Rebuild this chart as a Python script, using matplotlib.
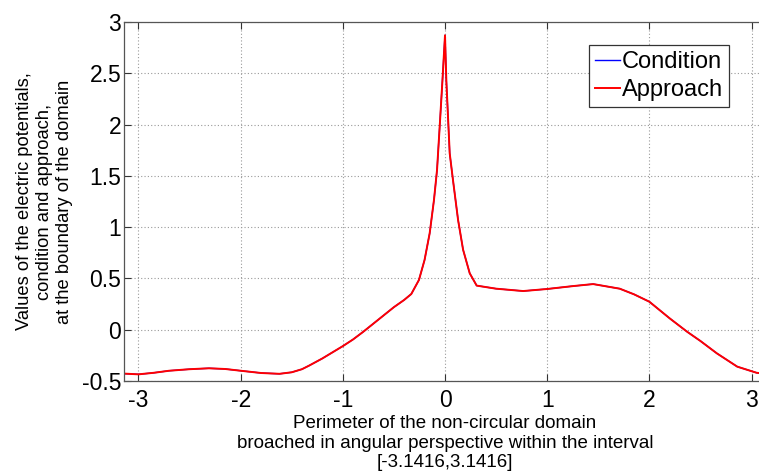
import matplotlib
matplotlib.use("Agg")
import matplotlib.pyplot as plt

angle = [-3.1416, -3.0, -2.85, -2.7, -2.5, -2.31, -2.15, -2.0, -1.8, -1.62, -1.5, -1.4,
         -1.33, -1.2, -1.1, -1.0, -0.9, -0.8, -0.7, -0.6, -0.5, -0.4, -0.33, -0.255,
         -0.20, -0.15, -0.108, -0.078, -0.052, -0.025, 0.0, 0.013, 0.046, 0.078, 0.128,
         0.177, 0.242, 0.31, 0.5, 0.765, 1.0, 1.25, 1.45, 1.71, 1.85, 2.0, 2.2, 2.37,
         2.5, 2.66, 2.86, 3.05, 3.1416]
condition = [-0.428, -0.435, -0.42, -0.40, -0.385, -0.376, -0.383, -0.40, -0.422, -0.43,
             -0.415, -0.385, -0.35, -0.28, -0.22, -0.16, -0.095, -0.02, 0.06, 0.14, 0.22,
             0.29, 0.348, 0.485, 0.68, 0.94, 1.264, 1.557, 1.98, 2.43, 2.87, 2.43, 1.72,
             1.46, 1.07, 0.78, 0.55, 0.43, 0.40, 0.377, 0.397, 0.425, 0.445, 0.40, 0.345,
             0.273, 0.11, -0.02, -0.11, -0.23, -0.36, -0.42, -0.43]
approach = list(condition)

xticks = [-3, -2, -1, 0, 1, 2, 3]
yticks = [-0.5, 0, 0.5, 1, 1.5, 2, 2.5, 3]
ytick_labels = ["-0.5", "0", "0.5", "1", "1.5", "2", "2.5", "3"]

plt.rcParams['font.family'] = ['Liberation Sans', 'DejaVu Sans']

fig = plt.figure(figsize=(7.59, 4.73), dpi=100)
ax = fig.add_axes([124/759, 92/473, 642/759, 359/473])

ax.plot(angle, condition, color='blue', lw=1.0, label='Condition')
ax.plot(angle, approach, color='red', lw=1.4, label='Approach')

ax.set_xlim(-3.1416, 3.1416)
ax.set_ylim(-0.5, 3)
ax.set_xticks(xticks)
ax.set_xticklabels([str(t) for t in xticks])
ax.set_yticks(yticks)
ax.set_yticklabels(ytick_labels)
ax.tick_params(direction='in', length=5, width=0.8, top=True, right=True,
               labelsize=16.5, colors='#333333', labelcolor='black')
ax.tick_params(axis='y', pad=2)
ax.tick_params(axis='x', pad=6)
ax.grid(True, linestyle=(0, (1, 2)), color='#999999', lw=0.8)
for s in ax.spines.values():
    s.set_color('#555555')
    s.set_linewidth(0.9)

ax.set_xlabel("Perimeter of the non-circular domain\nbroached in angular perspective within the interval\n[-3.1416,3.1416]",
              fontsize=13.5, labelpad=2, linespacing=1.2)
ax.set_ylabel("Values of the electric potentials,\ncondition and approach,\nat the boundary of the domain",
              fontsize=13.2, labelpad=6, linespacing=1.25)

leg = ax.legend(loc='upper right', bbox_to_anchor=((729 - 124) / 642, 1 - 23/359), fontsize=17,
                handlelength=1.05, handletextpad=0.1, borderpad=0.25, labelspacing=0.25,
                borderaxespad=0, fancybox=False, framealpha=1)
leg.get_frame().set_edgecolor('#333333')
leg.get_frame().set_linewidth(0.9)

fig.savefig("out.png", dpi=100)
